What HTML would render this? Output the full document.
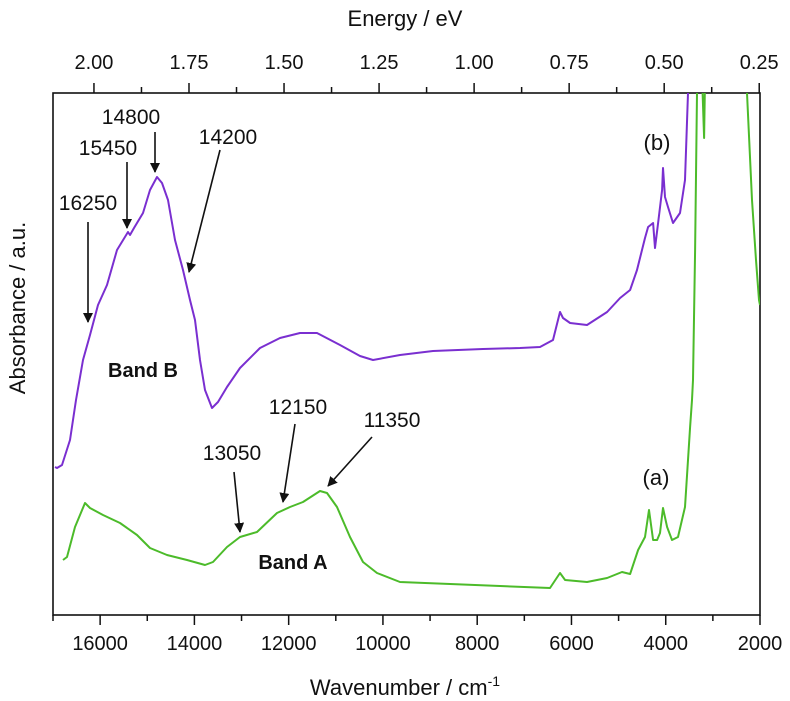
<!DOCTYPE html>
<html><head><meta charset="utf-8">
<style>
html,body{margin:0;padding:0;background:#fff;}
svg{display:block;font-family:"Liberation Sans",Arial,sans-serif;}
</style></head>
<body>
<svg id="chart" width="790" height="701" viewBox="0 0 790 701">
<defs><clipPath id="plotclip"><rect x="53" y="93" width="707" height="522"/></clipPath></defs>
<g id="axes"></g>
<g id="series" clip-path="url(#plotclip)"></g>
<g id="annot"></g>
</svg>
<script>
// data
const xTicks = [16000,14000,12000,10000,8000,6000,4000,2000];
const xMinorTicks = [17000,15000,13000,11000,9000,7000,5000,3000];
const eTicks = [2.00,1.75,1.50,1.25,1.00,0.75,0.50,0.25];
const eTickLabels = ["2.00","1.75","1.50","1.25","1.00","0.75","0.50","0.25"];
const eMinorTicks = [1.875,1.625,1.375,1.125,0.875,0.625,0.375];
const wnB = [16958,16915,16809,16639,16512,16363,16215,16045,15854,15642,15409,15366,15281,15090,14942,14793,14687,14560,14411,14242,14093,13987,13881,13775,13626,13499,13308,13032,12608,12184,11759,11398,10910,10486,10210,9637,8937,7876,7091,6667,6391,6243,6179,6030,5670,5245,4969,4757,4609,4439,4375,4269,4227,4163,4078,4057,4015,3951,3845,3697,3591,3527,3480];
const absB = [1.48,1.47,1.50,1.75,2.15,2.55,2.80,3.10,3.30,3.65,3.83,3.80,3.87,4.02,4.25,4.38,4.32,4.15,3.75,3.45,3.15,2.95,2.55,2.25,2.07,2.13,2.28,2.47,2.67,2.77,2.82,2.82,2.70,2.59,2.55,2.60,2.64,2.66,2.67,2.68,2.75,3.03,2.97,2.92,2.90,3.03,3.17,3.25,3.45,3.77,3.88,3.92,3.67,3.92,4.25,4.47,4.18,4.08,3.92,4.02,4.35,5.22,6.0];
const wnA = [16788,16703,16533,16321,16215,15939,15578,15218,14942,14581,14157,13775,13605,13308,13032,12672,12247,11971,11696,11335,11186,10974,10698,10422,10125,9637,8576,7516,6455,6243,6136,5670,5245,4927,4757,4587,4439,4354,4269,4184,4121,4057,3972,3866,3739,3591,3527,3484,3442,3421,3378,3336,3272,3187,3145,3081,2300,2275,2169,2084,2021,2000];
const absA = [0.55,0.58,0.88,1.12,1.07,1.00,0.92,0.80,0.67,0.60,0.55,0.50,0.53,0.68,0.78,0.83,1.02,1.08,1.13,1.24,1.22,1.08,0.78,0.53,0.42,0.33,0.31,0.29,0.27,0.42,0.35,0.33,0.37,0.43,0.41,0.65,0.78,1.05,0.75,0.75,0.82,1.07,0.88,0.75,0.78,1.08,1.55,1.88,2.15,2.35,3.65,5.22,6.0,4.77,6.0,6.0,6.0,5.22,4.15,3.55,3.15,3.10];

const X0=53,X1=760,Y0=615,Y1=93;
function xs(w){return X0+(17000-w)*(X1-X0)/15000;}
function ys(a){return Y0-a*(Y0-Y1)/5.22;}
const NS="http://www.w3.org/2000/svg";
function mk(tag,attrs,parent){const e=document.createElementNS(NS,tag);for(const k in attrs)e.setAttribute(k,attrs[k]);parent.appendChild(e);return e;}
const axes=document.getElementById('axes'),series=document.getElementById('series'),annot=document.getElementById('annot');

const frame=mk('rect',{x:X0,y:Y1,width:X1-X0,height:Y0-Y1,fill:'none',stroke:'#111','stroke-width':1.6},axes);



xTicks.forEach(w=>{
  const x=xs(w);
  const t=mk('line',{x1:x,x2:x,y1:Y0,y2:Y0+10,stroke:'#111','stroke-width':1.5},axes);
  
  
  const l=mk('text',{x:x,y:Y0+35,'text-anchor':'middle','font-size':20,fill:'#111'},axes);
  l.textContent=w;
  
  
});
xMinorTicks.forEach(w=>{
  const x=xs(w);
  const t=mk('line',{x1:x,x2:x,y1:Y0,y2:Y0+6,stroke:'#111','stroke-width':1.5},axes);
  
  
});
eTicks.forEach((e,i)=>{
  const x=xs(e*8065.54);
  const t=mk('line',{x1:x,x2:x,y1:Y1,y2:Y1-10,stroke:'#111','stroke-width':1.5},axes);
  
  
  const l=mk('text',{x:x,y:Y1-24,'text-anchor':'middle','font-size':20,fill:'#111'},axes);
  l.textContent=eTickLabels[i];
  
  
});
eMinorTicks.forEach(e=>{
  const x=xs(e*8065.54);
  const t=mk('line',{x1:x,x2:x,y1:Y1,y2:Y1-6,stroke:'#111','stroke-width':1.5},axes);
  
  
});

function path(wn,ab){return wn.map((w,i)=>(i?'L':'M')+xs(w).toFixed(1)+','+ys(ab[i]).toFixed(1)).join(' ');}
const pb=mk('path',{d:path(wnB,absB),fill:'none',stroke:'#7a2fd0','stroke-width':2,'stroke-linejoin':'round'},series);


const pa=mk('path',{d:path(wnA,absA),fill:'none',stroke:'#4cbb2a','stroke-width':2,'stroke-linejoin':'round'},series);


</script>
<svg width="0" height="0" style="position:absolute"><defs>
<marker id="ah" markerWidth="10" markerHeight="10" refX="9" refY="5" orient="auto" markerUnits="userSpaceOnUse"><path d="M0,0 L10,5 L0,10 Z" fill="#111"/></marker></defs></svg>
<script>
const A=document.getElementById('annot');
const S="http://www.w3.org/2000/svg";
function txt(x,y,s,name,size,bold,anchor){const t=document.createElementNS(S,'text');t.setAttribute('x',x);t.setAttribute('y',y);t.setAttribute('font-size',size);t.setAttribute('fill','#111');if(bold)t.setAttribute('font-weight','bold');t.setAttribute('text-anchor',anchor||'start');t.textContent=s;A.appendChild(t);


return t;}
function arr(x1,y1,x2,y2,name){const l=document.createElementNS(S,'line');l.setAttribute('x1',x1);l.setAttribute('y1',y1);l.setAttribute('x2',x2);l.setAttribute('y2',y2);l.setAttribute('stroke','#111');l.setAttribute('stroke-width',1.6);l.setAttribute('marker-end','url(#ah)');A.appendChild(l);

}
txt(405,26,'Energy / eV','x2-axis-title',22,false,'middle');
const wt=txt(405,695,'Wavenumber / cm','x-axis-title',22,false,'middle');
const sup=document.createElementNS(S,'tspan');sup.setAttribute('font-size',14);sup.setAttribute('dy',-9);sup.textContent='-1';wt.appendChild(sup);
const yt=txt(0,0,'Absorbance / a.u.','y-axis-title',22,false,'middle');yt.setAttribute('transform','translate(25,308) rotate(-90)');
txt(88,210,'16250','label-16250',21,false,'middle');arr(88,222,88,322,'arrow-16250');
txt(108,155,'15450','label-15450',21,false,'middle');arr(127,162,127,228,'arrow-15450');
txt(131,124,'14800','label-14800',21,false,'middle');arr(155,132,155,172,'arrow-14800');
txt(228,144,'14200','label-14200',21,false,'middle');arr(220,150,189,272,'arrow-14200');
txt(143,377,'Band B','band-b-label',20,true,'middle');
txt(232,460,'13050','label-13050',21,false,'middle');arr(234,472,240,532,'arrow-13050');
txt(298,414,'12150','label-12150',21,false,'middle');arr(295,424,283,502,'arrow-12150');
txt(392,427,'11350','label-11350',21,false,'middle');arr(372,437,328,486,'arrow-11350');
txt(293,569,'Band A','band-a-label',20,true,'middle');
txt(657,150,'(b)','series-b-label',22,false,'middle');
txt(656,485,'(a)','series-a-label',22,false,'middle');
</script>
</body></html>
